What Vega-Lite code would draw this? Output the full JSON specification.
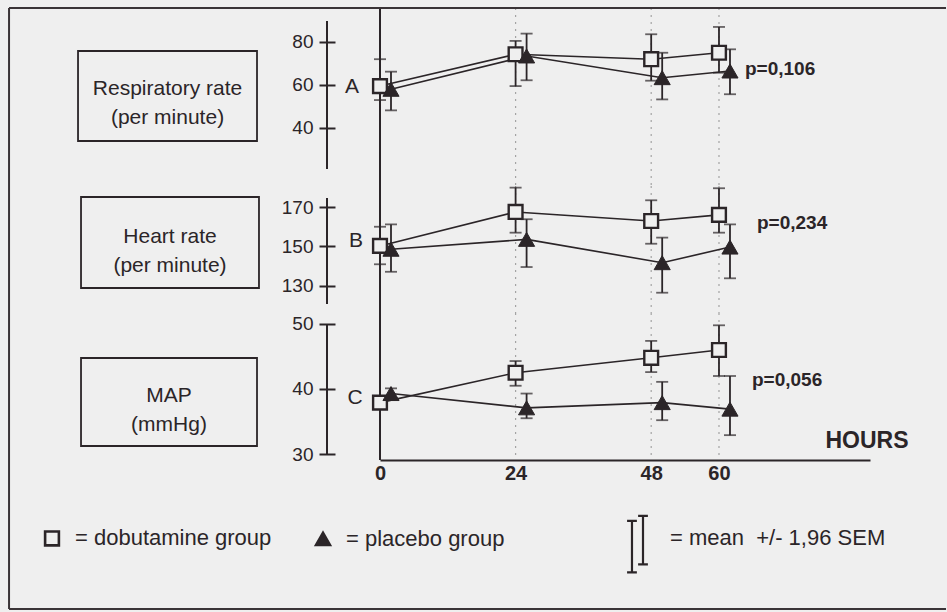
{
"$schema":"https://vega.github.io/schema/vega-lite/v6.json",
"background":"#efefef",
"padding":{"left":8,"top":6,"right":0,"bottom":3},
"config":{"view":{"stroke":null},"font":"Liberation Sans",
"axisY":{"offset":45,"tickSize":16,"tickWidth":2,"tickColor":"#2b2528","domain":false,"grid":false,"labelFontSize":19,"labelPadding":6,"labelColor":"#2b2528"},
"axisX":{"ticks":false,"domainColor":"#2b2528","domainWidth":2,"labelFontSize":20,"labelFontWeight":"bold","labelFlush":false,"labelPadding":3,"labelColor":"#2b2528","grid":false}},
"datasets":{
"pts":[
{"p":"A","g":"dobutamine","h":0,"m":59.5,"lo":53,"hi":72},
{"p":"A","g":"dobutamine","h":24,"m":74.3,"lo":59.5,"hi":80.5},
{"p":"A","g":"dobutamine","h":48,"m":72.0,"lo":62,"hi":83.6},
{"p":"A","g":"dobutamine","h":60,"m":75.0,"lo":65.7,"hi":87.0},
{"p":"A","g":"placebo","h":0,"m":58.0,"lo":48.2,"hi":66.2},
{"p":"A","g":"placebo","h":24,"m":73.5,"lo":62.2,"hi":83.9},
{"p":"A","g":"placebo","h":48,"m":63.4,"lo":53.3,"hi":75.0},
{"p":"A","g":"placebo","h":60,"m":66.5,"lo":55.7,"hi":76.6},
{"p":"B","g":"dobutamine","h":0,"m":150.3,"lo":141,"hi":160},
{"p":"B","g":"dobutamine","h":24,"m":167.5,"lo":157.0,"hi":179.8},
{"p":"B","g":"dobutamine","h":48,"m":162.9,"lo":151.4,"hi":173.4},
{"p":"B","g":"dobutamine","h":60,"m":166.0,"lo":157.0,"hi":179.5},
{"p":"B","g":"placebo","h":0,"m":148.6,"lo":137.2,"hi":161.2},
{"p":"B","g":"placebo","h":24,"m":153.6,"lo":139.6,"hi":163.8},
{"p":"B","g":"placebo","h":48,"m":141.8,"lo":126.6,"hi":154.5},
{"p":"B","g":"placebo","h":60,"m":149.7,"lo":133.9,"hi":161.2},
{"p":"C","g":"dobutamine","h":0,"m":37.9,"lo":37.2,"hi":38.6},
{"p":"C","g":"dobutamine","h":24,"m":42.5,"lo":40.5,"hi":44.3},
{"p":"C","g":"dobutamine","h":48,"m":44.8,"lo":42.6,"hi":47.4},
{"p":"C","g":"dobutamine","h":60,"m":46.0,"lo":42.0,"hi":49.8},
{"p":"C","g":"placebo","h":0,"m":39.3,"lo":38.5,"hi":40.1},
{"p":"C","g":"placebo","h":24,"m":37.1,"lo":35.5,"hi":39.3},
{"p":"C","g":"placebo","h":48,"m":37.9,"lo":35.2,"hi":41.1},
{"p":"C","g":"placebo","h":60,"m":36.9,"lo":32.9,"hi":42.0}
],
"axl":[
{"p":"A","h":0,"a":20.93,"b":89.77},
{"p":"B","h":0,"a":120.89,"b":174.56},
{"p":"C","h":0,"a":30,"b":50}
],
"boxes":[
{"p":"A","x1":-53.45,"x2":-21.77,"y1":33.95,"y2":75.81,"tx":-37.61,"ty":58.37,"t":"Respiratory rate\n(per minute)"},
{"p":"B","x1":-52.92,"x2":-21.42,"y1":128.99,"y2":175.06,"tx":-37.17,"ty":154.81,"t":"Heart rate\n(per minute)"},
{"p":"C","x1":-52.92,"x2":-21.77,"y1":31.23,"y2":44.77,"tx":-37.35,"ty":38.92,"t":"MAP\n(mmHg)"}
],
"ann":[
{"p":"A","k":"L","x":-4.96,"y":59.07,"t":"A"},
{"p":"B","k":"L","x":-4.25,"y":152.78,"t":"B"},
{"p":"C","k":"L","x":-4.42,"y":38.62,"t":"C"},
{"p":"A","k":"P","x":64.6,"y":67.44,"t":"p=0,106"},
{"p":"B","k":"P","x":66.73,"y":161.9,"t":"p=0,234"},
{"p":"C","k":"P","x":65.84,"y":41.4,"t":"p=0,056"}
],
"frame":[
{"x1":-65.66,"x2":100.18,"y1":98.615,"y2":98.615},
{"x1":-65.66,"x2":-65.66,"y1":98.615,"y2":6.154},
{"x1":-65.66,"x2":100.18,"y1":6.154,"y2":6.154}
],
"grid":[{"h":24},{"h":48},{"h":60}],
"zero":[{"h":0}]
},
"spacing":0,
"bounds":"flush",
"resolve":{"scale":{"x":"independent","y":"independent","shape":"shared","fill":"shared","stroke":"shared"},"legend":{"shape":"shared","fill":"shared","stroke":"shared"}},
"vconcat":[
{"width":490,"height":178,
"layer":[
{"data":{"name":"grid"},"mark":{"type":"rule","color":"#a3a3a3","strokeDash":[2,5],"strokeWidth":1.2},"encoding":{"x":{"field":"h","type":"quantitative","scale":{"domain":[0,86.73],"nice":false,"zero":false},"axis":null}}},
{"data":{"name":"zero"},"mark":{"type":"rule","color":"#2b2528","strokeWidth":2},"encoding":{"x":{"field":"h","type":"quantitative","scale":{"domain":[0,86.73],"nice":false,"zero":false},"axis":null}}},
{"data":{"name":"axl"},"transform":[{"filter":"datum.p==='A'"}],"mark":{"type":"rule","color":"#2b2528","strokeWidth":2,"xOffset":-53},"encoding":{"x":{"field":"h","type":"quantitative","scale":{"domain":[0,86.73],"nice":false,"zero":false},"axis":null},"y":{"field":"a","type":"quantitative","scale":{"domain":[13.023,95.814],"nice":false,"zero":false},"axis":{"values":[40,60,80],"title":null}},"y2":{"field":"b"}}},
{"data":{"name":"boxes"},"transform":[{"filter":"datum.p==='A'"}],"mark":{"type":"rect","fillOpacity":0,"stroke":"#2b2528","strokeWidth":1.8},"encoding":{"x":{"field":"x1","type":"quantitative","scale":{"domain":[0,86.73],"nice":false,"zero":false},"axis":null},"x2":{"field":"x2"},"y":{"field":"y1","type":"quantitative","scale":{"domain":[13.023,95.814],"nice":false,"zero":false},"axis":{"values":[40,60,80],"title":null}},"y2":{"field":"y2"}}},
{"data":{"name":"boxes"},"transform":[{"filter":"datum.p==='A'"}],"mark":{"type":"text","fontSize":21,"lineBreak":"\n","lineHeight":29,"align":"center","baseline":"middle","color":"#2b2528"},"encoding":{"x":{"field":"tx","type":"quantitative","scale":{"domain":[0,86.73],"nice":false,"zero":false},"axis":null},"y":{"field":"ty","type":"quantitative","scale":{"domain":[13.023,95.814],"nice":false,"zero":false},"axis":{"values":[40,60,80],"title":null}},"text":{"field":"t"}}},
{"data":{"name":"ann"},"transform":[{"filter":"datum.p==='A' && datum.k==='L'"}],"mark":{"type":"text","fontSize":21,"align":"center","baseline":"middle","color":"#2b2528"},"encoding":{"x":{"field":"x","type":"quantitative","scale":{"domain":[0,86.73],"nice":false,"zero":false},"axis":null},"y":{"field":"y","type":"quantitative","scale":{"domain":[13.023,95.814],"nice":false,"zero":false},"axis":{"values":[40,60,80],"title":null}},"text":{"field":"t"}}},
{"data":{"name":"ann"},"transform":[{"filter":"datum.p==='A' && datum.k==='P'"}],"mark":{"type":"text","fontSize":19,"fontWeight":"bold","align":"left","baseline":"middle","color":"#2b2528"},"encoding":{"x":{"field":"x","type":"quantitative","scale":{"domain":[0,86.73],"nice":false,"zero":false},"axis":null},"y":{"field":"y","type":"quantitative","scale":{"domain":[13.023,95.814],"nice":false,"zero":false},"axis":{"values":[40,60,80],"title":null}},"text":{"field":"t"}}},
{"data":{"name":"pts"},"transform":[{"filter":"datum.p==='A' && datum.g==='dobutamine'"}],"mark":{"type":"line","color":"#2b2528","strokeWidth":1.6},"encoding":{"x":{"field":"h","type":"quantitative","scale":{"domain":[0,86.73],"nice":false,"zero":false},"axis":null},"y":{"field":"m","type":"quantitative","scale":{"domain":[13.023,95.814],"nice":false,"zero":false},"axis":{"values":[40,60,80],"title":null}}}},
{"data":{"name":"pts"},"transform":[{"filter":"datum.p==='A' && datum.g==='placebo'"}],"mark":{"type":"line","color":"#2b2528","strokeWidth":1.6,"xOffset":11},"encoding":{"x":{"field":"h","type":"quantitative","scale":{"domain":[0,86.73],"nice":false,"zero":false},"axis":null},"y":{"field":"m","type":"quantitative","scale":{"domain":[13.023,95.814],"nice":false,"zero":false},"axis":{"values":[40,60,80],"title":null}}}},
{"data":{"name":"pts"},"transform":[{"filter":"datum.p==='A' && datum.g==='dobutamine'"}],"mark":{"type":"rule","color":"#2b2528","strokeWidth":1.8},"encoding":{"x":{"field":"h","type":"quantitative","scale":{"domain":[0,86.73],"nice":false,"zero":false},"axis":null},"y":{"field":"lo","type":"quantitative","scale":{"domain":[13.023,95.814],"nice":false,"zero":false},"axis":{"values":[40,60,80],"title":null}},"y2":{"field":"hi"}}},
{"data":{"name":"pts"},"transform":[{"filter":"datum.p==='A' && datum.g==='dobutamine'"}],"mark":{"type":"tick","orient":"horizontal","color":"#2b2528","size":12,"thickness":1.8},"encoding":{"x":{"field":"h","type":"quantitative","scale":{"domain":[0,86.73],"nice":false,"zero":false},"axis":null},"y":{"field":"lo","type":"quantitative","scale":{"domain":[13.023,95.814],"nice":false,"zero":false},"axis":{"values":[40,60,80],"title":null}}}},
{"data":{"name":"pts"},"transform":[{"filter":"datum.p==='A' && datum.g==='dobutamine'"}],"mark":{"type":"tick","orient":"horizontal","color":"#2b2528","size":12,"thickness":1.8},"encoding":{"x":{"field":"h","type":"quantitative","scale":{"domain":[0,86.73],"nice":false,"zero":false},"axis":null},"y":{"field":"hi","type":"quantitative","scale":{"domain":[13.023,95.814],"nice":false,"zero":false},"axis":{"values":[40,60,80],"title":null}}}},
{"data":{"name":"pts"},"transform":[{"filter":"datum.p==='A' && datum.g==='placebo'"}],"mark":{"type":"rule","color":"#2b2528","strokeWidth":1.8,"xOffset":11},"encoding":{"x":{"field":"h","type":"quantitative","scale":{"domain":[0,86.73],"nice":false,"zero":false},"axis":null},"y":{"field":"lo","type":"quantitative","scale":{"domain":[13.023,95.814],"nice":false,"zero":false},"axis":{"values":[40,60,80],"title":null}},"y2":{"field":"hi"}}},
{"data":{"name":"pts"},"transform":[{"filter":"datum.p==='A' && datum.g==='placebo'"}],"mark":{"type":"tick","orient":"horizontal","color":"#2b2528","size":12,"thickness":1.8,"xOffset":11},"encoding":{"x":{"field":"h","type":"quantitative","scale":{"domain":[0,86.73],"nice":false,"zero":false},"axis":null},"y":{"field":"lo","type":"quantitative","scale":{"domain":[13.023,95.814],"nice":false,"zero":false},"axis":{"values":[40,60,80],"title":null}}}},
{"data":{"name":"pts"},"transform":[{"filter":"datum.p==='A' && datum.g==='placebo'"}],"mark":{"type":"tick","orient":"horizontal","color":"#2b2528","size":12,"thickness":1.8,"xOffset":11},"encoding":{"x":{"field":"h","type":"quantitative","scale":{"domain":[0,86.73],"nice":false,"zero":false},"axis":null},"y":{"field":"hi","type":"quantitative","scale":{"domain":[13.023,95.814],"nice":false,"zero":false},"axis":{"values":[40,60,80],"title":null}}}},
{"data":{"name":"pts"},"transform":[{"filter":"datum.p==='A' && datum.g==='dobutamine'"}],"mark":{"type":"point","filled":true,"size":190,"strokeWidth":2.4,"opacity":1},"encoding":{"x":{"field":"h","type":"quantitative","scale":{"domain":[0,86.73],"nice":false,"zero":false},"axis":null},"y":{"field":"m","type":"quantitative","scale":{"domain":[13.023,95.814],"nice":false,"zero":false},"axis":{"values":[40,60,80],"title":null}},"shape":{"field":"g","type":"nominal","scale":{"domain":["dobutamine","placebo"],"range":["square","triangle-up"]},"legend":{"title":null,"orient":"none","legendX":-339,"legendY":519,"direction":"horizontal","columns":2,"columnPadding":38,"labelExpr":"'= ' + datum.label + ' group'","labelFontSize":22,"labelLimit":400,"labelColor":"#2b2528","labelOffset":12,"symbolSize":190,"symbolStrokeWidth":2.6,"padding":0}},"fill":{"field":"g","type":"nominal","scale":{"domain":["dobutamine","placebo"],"range":["#efefef","#2b2528"]},"legend":{"title":null,"orient":"none","legendX":-339,"legendY":519,"direction":"horizontal","columns":2,"columnPadding":38,"labelExpr":"'= ' + datum.label + ' group'","labelFontSize":22,"labelLimit":400,"labelColor":"#2b2528","labelOffset":12,"symbolSize":190,"symbolStrokeWidth":2.6,"padding":0}},"stroke":{"field":"g","type":"nominal","scale":{"domain":["dobutamine","placebo"],"range":["#2b2528","#2b2528"]},"legend":{"title":null,"orient":"none","legendX":-339,"legendY":519,"direction":"horizontal","columns":2,"columnPadding":38,"labelExpr":"'= ' + datum.label + ' group'","labelFontSize":22,"labelLimit":400,"labelColor":"#2b2528","labelOffset":12,"symbolSize":190,"symbolStrokeWidth":2.6,"padding":0}}}},
{"data":{"name":"pts"},"transform":[{"filter":"datum.p==='A' && datum.g==='placebo'"}],"mark":{"type":"point","filled":true,"size":260,"strokeWidth":1,"opacity":1,"xOffset":11},"encoding":{"x":{"field":"h","type":"quantitative","scale":{"domain":[0,86.73],"nice":false,"zero":false},"axis":null},"y":{"field":"m","type":"quantitative","scale":{"domain":[13.023,95.814],"nice":false,"zero":false},"axis":{"values":[40,60,80],"title":null}},"shape":{"field":"g","type":"nominal","scale":{"domain":["dobutamine","placebo"],"range":["square","triangle-up"]}},"fill":{"field":"g","type":"nominal","scale":{"domain":["dobutamine","placebo"],"range":["#efefef","#2b2528"]}},"stroke":{"field":"g","type":"nominal","scale":{"domain":["dobutamine","placebo"],"range":["#2b2528","#2b2528"]}}}}
]},
{"width":490,"height":127,
"layer":[
{"data":{"name":"grid"},"mark":{"type":"rule","color":"#a3a3a3","strokeDash":[2,5],"strokeWidth":1.2},"encoding":{"x":{"field":"h","type":"quantitative","scale":{"domain":[0,86.73],"nice":false,"zero":false},"axis":null}}},
{"data":{"name":"zero"},"mark":{"type":"rule","color":"#2b2528","strokeWidth":2},"encoding":{"x":{"field":"h","type":"quantitative","scale":{"domain":[0,86.73],"nice":false,"zero":false},"axis":null}}},
{"data":{"name":"axl"},"transform":[{"filter":"datum.p==='B'"}],"mark":{"type":"rule","color":"#2b2528","strokeWidth":2,"xOffset":-53},"encoding":{"x":{"field":"h","type":"quantitative","scale":{"domain":[0,86.73],"nice":false,"zero":false},"axis":null},"y":{"field":"a","type":"quantitative","scale":{"domain":[116.329,180.633],"nice":false,"zero":false},"axis":{"values":[130,150,170],"title":null}},"y2":{"field":"b"}}},
{"data":{"name":"boxes"},"transform":[{"filter":"datum.p==='B'"}],"mark":{"type":"rect","fillOpacity":0,"stroke":"#2b2528","strokeWidth":1.8},"encoding":{"x":{"field":"x1","type":"quantitative","scale":{"domain":[0,86.73],"nice":false,"zero":false},"axis":null},"x2":{"field":"x2"},"y":{"field":"y1","type":"quantitative","scale":{"domain":[116.329,180.633],"nice":false,"zero":false},"axis":{"values":[130,150,170],"title":null}},"y2":{"field":"y2"}}},
{"data":{"name":"boxes"},"transform":[{"filter":"datum.p==='B'"}],"mark":{"type":"text","fontSize":21,"lineBreak":"\n","lineHeight":29,"align":"center","baseline":"middle","color":"#2b2528"},"encoding":{"x":{"field":"tx","type":"quantitative","scale":{"domain":[0,86.73],"nice":false,"zero":false},"axis":null},"y":{"field":"ty","type":"quantitative","scale":{"domain":[116.329,180.633],"nice":false,"zero":false},"axis":{"values":[130,150,170],"title":null}},"text":{"field":"t"}}},
{"data":{"name":"ann"},"transform":[{"filter":"datum.p==='B' && datum.k==='L'"}],"mark":{"type":"text","fontSize":21,"align":"center","baseline":"middle","color":"#2b2528"},"encoding":{"x":{"field":"x","type":"quantitative","scale":{"domain":[0,86.73],"nice":false,"zero":false},"axis":null},"y":{"field":"y","type":"quantitative","scale":{"domain":[116.329,180.633],"nice":false,"zero":false},"axis":{"values":[130,150,170],"title":null}},"text":{"field":"t"}}},
{"data":{"name":"ann"},"transform":[{"filter":"datum.p==='B' && datum.k==='P'"}],"mark":{"type":"text","fontSize":19,"fontWeight":"bold","align":"left","baseline":"middle","color":"#2b2528"},"encoding":{"x":{"field":"x","type":"quantitative","scale":{"domain":[0,86.73],"nice":false,"zero":false},"axis":null},"y":{"field":"y","type":"quantitative","scale":{"domain":[116.329,180.633],"nice":false,"zero":false},"axis":{"values":[130,150,170],"title":null}},"text":{"field":"t"}}},
{"data":{"name":"pts"},"transform":[{"filter":"datum.p==='B' && datum.g==='dobutamine'"}],"mark":{"type":"line","color":"#2b2528","strokeWidth":1.6},"encoding":{"x":{"field":"h","type":"quantitative","scale":{"domain":[0,86.73],"nice":false,"zero":false},"axis":null},"y":{"field":"m","type":"quantitative","scale":{"domain":[116.329,180.633],"nice":false,"zero":false},"axis":{"values":[130,150,170],"title":null}}}},
{"data":{"name":"pts"},"transform":[{"filter":"datum.p==='B' && datum.g==='placebo'"}],"mark":{"type":"line","color":"#2b2528","strokeWidth":1.6,"xOffset":11},"encoding":{"x":{"field":"h","type":"quantitative","scale":{"domain":[0,86.73],"nice":false,"zero":false},"axis":null},"y":{"field":"m","type":"quantitative","scale":{"domain":[116.329,180.633],"nice":false,"zero":false},"axis":{"values":[130,150,170],"title":null}}}},
{"data":{"name":"pts"},"transform":[{"filter":"datum.p==='B' && datum.g==='dobutamine'"}],"mark":{"type":"rule","color":"#2b2528","strokeWidth":1.8},"encoding":{"x":{"field":"h","type":"quantitative","scale":{"domain":[0,86.73],"nice":false,"zero":false},"axis":null},"y":{"field":"lo","type":"quantitative","scale":{"domain":[116.329,180.633],"nice":false,"zero":false},"axis":{"values":[130,150,170],"title":null}},"y2":{"field":"hi"}}},
{"data":{"name":"pts"},"transform":[{"filter":"datum.p==='B' && datum.g==='dobutamine'"}],"mark":{"type":"tick","orient":"horizontal","color":"#2b2528","size":12,"thickness":1.8},"encoding":{"x":{"field":"h","type":"quantitative","scale":{"domain":[0,86.73],"nice":false,"zero":false},"axis":null},"y":{"field":"lo","type":"quantitative","scale":{"domain":[116.329,180.633],"nice":false,"zero":false},"axis":{"values":[130,150,170],"title":null}}}},
{"data":{"name":"pts"},"transform":[{"filter":"datum.p==='B' && datum.g==='dobutamine'"}],"mark":{"type":"tick","orient":"horizontal","color":"#2b2528","size":12,"thickness":1.8},"encoding":{"x":{"field":"h","type":"quantitative","scale":{"domain":[0,86.73],"nice":false,"zero":false},"axis":null},"y":{"field":"hi","type":"quantitative","scale":{"domain":[116.329,180.633],"nice":false,"zero":false},"axis":{"values":[130,150,170],"title":null}}}},
{"data":{"name":"pts"},"transform":[{"filter":"datum.p==='B' && datum.g==='placebo'"}],"mark":{"type":"rule","color":"#2b2528","strokeWidth":1.8,"xOffset":11},"encoding":{"x":{"field":"h","type":"quantitative","scale":{"domain":[0,86.73],"nice":false,"zero":false},"axis":null},"y":{"field":"lo","type":"quantitative","scale":{"domain":[116.329,180.633],"nice":false,"zero":false},"axis":{"values":[130,150,170],"title":null}},"y2":{"field":"hi"}}},
{"data":{"name":"pts"},"transform":[{"filter":"datum.p==='B' && datum.g==='placebo'"}],"mark":{"type":"tick","orient":"horizontal","color":"#2b2528","size":12,"thickness":1.8,"xOffset":11},"encoding":{"x":{"field":"h","type":"quantitative","scale":{"domain":[0,86.73],"nice":false,"zero":false},"axis":null},"y":{"field":"lo","type":"quantitative","scale":{"domain":[116.329,180.633],"nice":false,"zero":false},"axis":{"values":[130,150,170],"title":null}}}},
{"data":{"name":"pts"},"transform":[{"filter":"datum.p==='B' && datum.g==='placebo'"}],"mark":{"type":"tick","orient":"horizontal","color":"#2b2528","size":12,"thickness":1.8,"xOffset":11},"encoding":{"x":{"field":"h","type":"quantitative","scale":{"domain":[0,86.73],"nice":false,"zero":false},"axis":null},"y":{"field":"hi","type":"quantitative","scale":{"domain":[116.329,180.633],"nice":false,"zero":false},"axis":{"values":[130,150,170],"title":null}}}},
{"data":{"name":"pts"},"transform":[{"filter":"datum.p==='B' && datum.g==='dobutamine'"}],"mark":{"type":"point","filled":true,"size":190,"strokeWidth":2.4,"opacity":1},"encoding":{"x":{"field":"h","type":"quantitative","scale":{"domain":[0,86.73],"nice":false,"zero":false},"axis":null},"y":{"field":"m","type":"quantitative","scale":{"domain":[116.329,180.633],"nice":false,"zero":false},"axis":{"values":[130,150,170],"title":null}},"shape":{"field":"g","type":"nominal","scale":{"domain":["dobutamine","placebo"],"range":["square","triangle-up"]}},"fill":{"field":"g","type":"nominal","scale":{"domain":["dobutamine","placebo"],"range":["#efefef","#2b2528"]}},"stroke":{"field":"g","type":"nominal","scale":{"domain":["dobutamine","placebo"],"range":["#2b2528","#2b2528"]}}}},
{"data":{"name":"pts"},"transform":[{"filter":"datum.p==='B' && datum.g==='placebo'"}],"mark":{"type":"point","filled":true,"size":260,"strokeWidth":1,"opacity":1,"xOffset":11},"encoding":{"x":{"field":"h","type":"quantitative","scale":{"domain":[0,86.73],"nice":false,"zero":false},"axis":null},"y":{"field":"m","type":"quantitative","scale":{"domain":[116.329,180.633],"nice":false,"zero":false},"axis":{"values":[130,150,170],"title":null}},"shape":{"field":"g","type":"nominal","scale":{"domain":["dobutamine","placebo"],"range":["square","triangle-up"]}},"fill":{"field":"g","type":"nominal","scale":{"domain":["dobutamine","placebo"],"range":["#efefef","#2b2528"]}},"stroke":{"field":"g","type":"nominal","scale":{"domain":["dobutamine","placebo"],"range":["#2b2528","#2b2528"]}}}}
]},
{"width":490,"height":147,
"layer":[
{"data":{"name":"frame"},"mark":{"type":"rule","color":"#3a3437","strokeWidth":2},"encoding":{"x":{"field":"x1","type":"quantitative","scale":{"domain":[0,86.73],"nice":false,"zero":false},"axis":{"values":[0,24,48,60],"title":"HOURS","titleFontSize":23,"titleFontWeight":"bold","titleColor":"#2b2528","titleX":528,"titleY":-8,"titleAlign":"right","titleBaseline":"bottom","titleAngle":0}},"x2":{"field":"x2"},"y":{"field":"y1","type":"quantitative","scale":{"domain":[29.077,51.692],"nice":false,"zero":false},"axis":{"values":[30,40,50],"title":null}},"y2":{"field":"y2"}}},
{"data":{"name":"grid"},"mark":{"type":"rule","color":"#a3a3a3","strokeDash":[2,5],"strokeWidth":1.2},"encoding":{"x":{"field":"h","type":"quantitative","scale":{"domain":[0,86.73],"nice":false,"zero":false},"axis":{"values":[0,24,48,60],"title":"HOURS","titleFontSize":23,"titleFontWeight":"bold","titleColor":"#2b2528","titleX":528,"titleY":-8,"titleAlign":"right","titleBaseline":"bottom","titleAngle":0}}}},
{"data":{"name":"zero"},"mark":{"type":"rule","color":"#2b2528","strokeWidth":2},"encoding":{"x":{"field":"h","type":"quantitative","scale":{"domain":[0,86.73],"nice":false,"zero":false},"axis":{"values":[0,24,48,60],"title":"HOURS","titleFontSize":23,"titleFontWeight":"bold","titleColor":"#2b2528","titleX":528,"titleY":-8,"titleAlign":"right","titleBaseline":"bottom","titleAngle":0}}}},
{"data":{"name":"axl"},"transform":[{"filter":"datum.p==='C'"}],"mark":{"type":"rule","color":"#2b2528","strokeWidth":2,"xOffset":-53},"encoding":{"x":{"field":"h","type":"quantitative","scale":{"domain":[0,86.73],"nice":false,"zero":false},"axis":{"values":[0,24,48,60],"title":"HOURS","titleFontSize":23,"titleFontWeight":"bold","titleColor":"#2b2528","titleX":528,"titleY":-8,"titleAlign":"right","titleBaseline":"bottom","titleAngle":0}},"y":{"field":"a","type":"quantitative","scale":{"domain":[29.077,51.692],"nice":false,"zero":false},"axis":{"values":[30,40,50],"title":null}},"y2":{"field":"b"}}},
{"data":{"name":"boxes"},"transform":[{"filter":"datum.p==='C'"}],"mark":{"type":"rect","fillOpacity":0,"stroke":"#2b2528","strokeWidth":1.8},"encoding":{"x":{"field":"x1","type":"quantitative","scale":{"domain":[0,86.73],"nice":false,"zero":false},"axis":{"values":[0,24,48,60],"title":"HOURS","titleFontSize":23,"titleFontWeight":"bold","titleColor":"#2b2528","titleX":528,"titleY":-8,"titleAlign":"right","titleBaseline":"bottom","titleAngle":0}},"x2":{"field":"x2"},"y":{"field":"y1","type":"quantitative","scale":{"domain":[29.077,51.692],"nice":false,"zero":false},"axis":{"values":[30,40,50],"title":null}},"y2":{"field":"y2"}}},
{"data":{"name":"boxes"},"transform":[{"filter":"datum.p==='C'"}],"mark":{"type":"text","fontSize":21,"lineBreak":"\n","lineHeight":29,"align":"center","baseline":"middle","color":"#2b2528"},"encoding":{"x":{"field":"tx","type":"quantitative","scale":{"domain":[0,86.73],"nice":false,"zero":false},"axis":{"values":[0,24,48,60],"title":"HOURS","titleFontSize":23,"titleFontWeight":"bold","titleColor":"#2b2528","titleX":528,"titleY":-8,"titleAlign":"right","titleBaseline":"bottom","titleAngle":0}},"y":{"field":"ty","type":"quantitative","scale":{"domain":[29.077,51.692],"nice":false,"zero":false},"axis":{"values":[30,40,50],"title":null}},"text":{"field":"t"}}},
{"data":{"name":"ann"},"transform":[{"filter":"datum.p==='C' && datum.k==='L'"}],"mark":{"type":"text","fontSize":21,"align":"center","baseline":"middle","color":"#2b2528"},"encoding":{"x":{"field":"x","type":"quantitative","scale":{"domain":[0,86.73],"nice":false,"zero":false},"axis":{"values":[0,24,48,60],"title":"HOURS","titleFontSize":23,"titleFontWeight":"bold","titleColor":"#2b2528","titleX":528,"titleY":-8,"titleAlign":"right","titleBaseline":"bottom","titleAngle":0}},"y":{"field":"y","type":"quantitative","scale":{"domain":[29.077,51.692],"nice":false,"zero":false},"axis":{"values":[30,40,50],"title":null}},"text":{"field":"t"}}},
{"data":{"name":"ann"},"transform":[{"filter":"datum.p==='C' && datum.k==='P'"}],"mark":{"type":"text","fontSize":19,"fontWeight":"bold","align":"left","baseline":"middle","color":"#2b2528"},"encoding":{"x":{"field":"x","type":"quantitative","scale":{"domain":[0,86.73],"nice":false,"zero":false},"axis":{"values":[0,24,48,60],"title":"HOURS","titleFontSize":23,"titleFontWeight":"bold","titleColor":"#2b2528","titleX":528,"titleY":-8,"titleAlign":"right","titleBaseline":"bottom","titleAngle":0}},"y":{"field":"y","type":"quantitative","scale":{"domain":[29.077,51.692],"nice":false,"zero":false},"axis":{"values":[30,40,50],"title":null}},"text":{"field":"t"}}},
{"data":{"name":"pts"},"transform":[{"filter":"datum.p==='C' && datum.g==='dobutamine'"}],"mark":{"type":"line","color":"#2b2528","strokeWidth":1.6},"encoding":{"x":{"field":"h","type":"quantitative","scale":{"domain":[0,86.73],"nice":false,"zero":false},"axis":{"values":[0,24,48,60],"title":"HOURS","titleFontSize":23,"titleFontWeight":"bold","titleColor":"#2b2528","titleX":528,"titleY":-8,"titleAlign":"right","titleBaseline":"bottom","titleAngle":0}},"y":{"field":"m","type":"quantitative","scale":{"domain":[29.077,51.692],"nice":false,"zero":false},"axis":{"values":[30,40,50],"title":null}}}},
{"data":{"name":"pts"},"transform":[{"filter":"datum.p==='C' && datum.g==='placebo'"}],"mark":{"type":"line","color":"#2b2528","strokeWidth":1.6,"xOffset":11},"encoding":{"x":{"field":"h","type":"quantitative","scale":{"domain":[0,86.73],"nice":false,"zero":false},"axis":{"values":[0,24,48,60],"title":"HOURS","titleFontSize":23,"titleFontWeight":"bold","titleColor":"#2b2528","titleX":528,"titleY":-8,"titleAlign":"right","titleBaseline":"bottom","titleAngle":0}},"y":{"field":"m","type":"quantitative","scale":{"domain":[29.077,51.692],"nice":false,"zero":false},"axis":{"values":[30,40,50],"title":null}}}},
{"data":{"name":"pts"},"transform":[{"filter":"datum.p==='C' && datum.g==='dobutamine'"}],"mark":{"type":"rule","color":"#2b2528","strokeWidth":1.8},"encoding":{"x":{"field":"h","type":"quantitative","scale":{"domain":[0,86.73],"nice":false,"zero":false},"axis":{"values":[0,24,48,60],"title":"HOURS","titleFontSize":23,"titleFontWeight":"bold","titleColor":"#2b2528","titleX":528,"titleY":-8,"titleAlign":"right","titleBaseline":"bottom","titleAngle":0}},"y":{"field":"lo","type":"quantitative","scale":{"domain":[29.077,51.692],"nice":false,"zero":false},"axis":{"values":[30,40,50],"title":null}},"y2":{"field":"hi"},"strokeDash":{"datum":"= mean\u00a0 +/- 1,96 SEM","type":"nominal","scale":{"range":[[1,0]]},"legend":{"title":null,"orient":"none","legendX":246,"legendY":519,"symbolType":"M-1.62,-2.8H-0.02M-0.82,-2.8V5.6M-1.62,5.6H-0.02M0.18,-3.6H1.78M0.98,-3.6V4.3M0.18,4.3H1.78","symbolSize":150,"symbolStrokeWidth":2.2,"symbolStrokeColor":"#2b2528","symbolFillColor":"transparent","labelFontSize":22,"labelLimit":400,"labelColor":"#2b2528","labelOffset":22,"padding":0}}}},
{"data":{"name":"pts"},"transform":[{"filter":"datum.p==='C' && datum.g==='dobutamine'"}],"mark":{"type":"tick","orient":"horizontal","color":"#2b2528","size":12,"thickness":1.8},"encoding":{"x":{"field":"h","type":"quantitative","scale":{"domain":[0,86.73],"nice":false,"zero":false},"axis":{"values":[0,24,48,60],"title":"HOURS","titleFontSize":23,"titleFontWeight":"bold","titleColor":"#2b2528","titleX":528,"titleY":-8,"titleAlign":"right","titleBaseline":"bottom","titleAngle":0}},"y":{"field":"lo","type":"quantitative","scale":{"domain":[29.077,51.692],"nice":false,"zero":false},"axis":{"values":[30,40,50],"title":null}}}},
{"data":{"name":"pts"},"transform":[{"filter":"datum.p==='C' && datum.g==='dobutamine'"}],"mark":{"type":"tick","orient":"horizontal","color":"#2b2528","size":12,"thickness":1.8},"encoding":{"x":{"field":"h","type":"quantitative","scale":{"domain":[0,86.73],"nice":false,"zero":false},"axis":{"values":[0,24,48,60],"title":"HOURS","titleFontSize":23,"titleFontWeight":"bold","titleColor":"#2b2528","titleX":528,"titleY":-8,"titleAlign":"right","titleBaseline":"bottom","titleAngle":0}},"y":{"field":"hi","type":"quantitative","scale":{"domain":[29.077,51.692],"nice":false,"zero":false},"axis":{"values":[30,40,50],"title":null}}}},
{"data":{"name":"pts"},"transform":[{"filter":"datum.p==='C' && datum.g==='placebo'"}],"mark":{"type":"rule","color":"#2b2528","strokeWidth":1.8,"xOffset":11},"encoding":{"x":{"field":"h","type":"quantitative","scale":{"domain":[0,86.73],"nice":false,"zero":false},"axis":{"values":[0,24,48,60],"title":"HOURS","titleFontSize":23,"titleFontWeight":"bold","titleColor":"#2b2528","titleX":528,"titleY":-8,"titleAlign":"right","titleBaseline":"bottom","titleAngle":0}},"y":{"field":"lo","type":"quantitative","scale":{"domain":[29.077,51.692],"nice":false,"zero":false},"axis":{"values":[30,40,50],"title":null}},"y2":{"field":"hi"}}},
{"data":{"name":"pts"},"transform":[{"filter":"datum.p==='C' && datum.g==='placebo'"}],"mark":{"type":"tick","orient":"horizontal","color":"#2b2528","size":12,"thickness":1.8,"xOffset":11},"encoding":{"x":{"field":"h","type":"quantitative","scale":{"domain":[0,86.73],"nice":false,"zero":false},"axis":{"values":[0,24,48,60],"title":"HOURS","titleFontSize":23,"titleFontWeight":"bold","titleColor":"#2b2528","titleX":528,"titleY":-8,"titleAlign":"right","titleBaseline":"bottom","titleAngle":0}},"y":{"field":"lo","type":"quantitative","scale":{"domain":[29.077,51.692],"nice":false,"zero":false},"axis":{"values":[30,40,50],"title":null}}}},
{"data":{"name":"pts"},"transform":[{"filter":"datum.p==='C' && datum.g==='placebo'"}],"mark":{"type":"tick","orient":"horizontal","color":"#2b2528","size":12,"thickness":1.8,"xOffset":11},"encoding":{"x":{"field":"h","type":"quantitative","scale":{"domain":[0,86.73],"nice":false,"zero":false},"axis":{"values":[0,24,48,60],"title":"HOURS","titleFontSize":23,"titleFontWeight":"bold","titleColor":"#2b2528","titleX":528,"titleY":-8,"titleAlign":"right","titleBaseline":"bottom","titleAngle":0}},"y":{"field":"hi","type":"quantitative","scale":{"domain":[29.077,51.692],"nice":false,"zero":false},"axis":{"values":[30,40,50],"title":null}}}},
{"data":{"name":"pts"},"transform":[{"filter":"datum.p==='C' && datum.g==='dobutamine'"}],"mark":{"type":"point","filled":true,"size":190,"strokeWidth":2.4,"opacity":1},"encoding":{"x":{"field":"h","type":"quantitative","scale":{"domain":[0,86.73],"nice":false,"zero":false},"axis":{"values":[0,24,48,60],"title":"HOURS","titleFontSize":23,"titleFontWeight":"bold","titleColor":"#2b2528","titleX":528,"titleY":-8,"titleAlign":"right","titleBaseline":"bottom","titleAngle":0}},"y":{"field":"m","type":"quantitative","scale":{"domain":[29.077,51.692],"nice":false,"zero":false},"axis":{"values":[30,40,50],"title":null}},"shape":{"field":"g","type":"nominal","scale":{"domain":["dobutamine","placebo"],"range":["square","triangle-up"]}},"fill":{"field":"g","type":"nominal","scale":{"domain":["dobutamine","placebo"],"range":["#efefef","#2b2528"]}},"stroke":{"field":"g","type":"nominal","scale":{"domain":["dobutamine","placebo"],"range":["#2b2528","#2b2528"]}}}},
{"data":{"name":"pts"},"transform":[{"filter":"datum.p==='C' && datum.g==='placebo'"}],"mark":{"type":"point","filled":true,"size":260,"strokeWidth":1,"opacity":1,"xOffset":11},"encoding":{"x":{"field":"h","type":"quantitative","scale":{"domain":[0,86.73],"nice":false,"zero":false},"axis":{"values":[0,24,48,60],"title":"HOURS","titleFontSize":23,"titleFontWeight":"bold","titleColor":"#2b2528","titleX":528,"titleY":-8,"titleAlign":"right","titleBaseline":"bottom","titleAngle":0}},"y":{"field":"m","type":"quantitative","scale":{"domain":[29.077,51.692],"nice":false,"zero":false},"axis":{"values":[30,40,50],"title":null}},"shape":{"field":"g","type":"nominal","scale":{"domain":["dobutamine","placebo"],"range":["square","triangle-up"]}},"fill":{"field":"g","type":"nominal","scale":{"domain":["dobutamine","placebo"],"range":["#efefef","#2b2528"]}},"stroke":{"field":"g","type":"nominal","scale":{"domain":["dobutamine","placebo"],"range":["#2b2528","#2b2528"]}}}}
]}
]
}
